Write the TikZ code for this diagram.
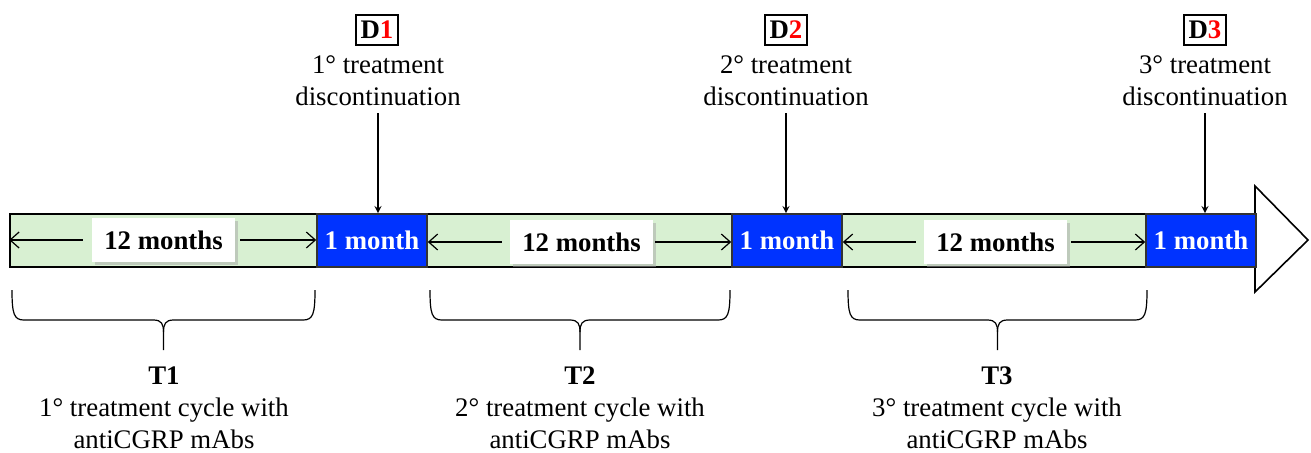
\documentclass[tikz,border=0pt]{standalone}
\usepackage{fontspec}
\setmainfont{Liberation Serif}
\usetikzlibrary{shapes.geometric, arrows, arrows.meta, calc, shadows}
\definecolor{barGreen}{RGB}{216,240,210}
\definecolor{monthBlue}{RGB}{0,51,255}
\newcommand{\figfont}{\fontsize{13.4}{16}\selectfont}
\tikzstyle{barNode} = [rectangle, draw=black, thick, fill=barGreen, minimum width=622.5pt, minimum height=26.5pt, inner sep=0pt]
\tikzstyle{monthNode} = [rectangle, draw=black!80, thick, fill=monthBlue, text=white, font=\figfont\bfseries, minimum width=55pt, minimum height=26.5pt, inner sep=0pt]
\tikzstyle{yearNode} = [rectangle, fill=white, font=\figfont\bfseries, minimum width=71.5pt, minimum height=22pt, inner sep=0pt, drop shadow={shadow xshift=1.5pt, shadow yshift=-1.5pt, fill=black!35}]
\tikzstyle{dNode} = [rectangle, draw=black, thick, font=\figfont\bfseries, minimum width=21pt, minimum height=15pt, inner sep=1.5pt]
\tikzstyle{eNode} = [text centered, align=center, font=\figfont]
\tikzstyle{arrow} = [semithick,->,>=stealth]
\tikzstyle{spanArrow} = [semithick,-{Straight Barb[length=4.5pt,width=8pt]}]
\tikzstyle{braceLine} = [semithick]

\begin{document}
\begin{tikzpicture}[x=0.5pt, y=-0.5pt]
        \useasboundingbox (0,0) rectangle (1311,452);
        % timeline bar and head
        \node (bar) [barNode] at (632.5,240.5) {};
        \coordinate (headTop) at (1255,186);
        \coordinate (headTip) at (1308,240);
        \coordinate (headBot) at (1255,292);
        \draw [thick, fill=white] (headTop) -- (headTip) -- (headBot) -- cycle;

        \node (m1) [monthNode] at (372,240.5) {1 month};
        \node (m2) [monthNode] at (787,240.5) {1 month};
        \node (m3) [monthNode] at (1201,240.5) {1 month};

        \node (y1) [yearNode] at (163.5,240) {12 months};
        \node (y2) [yearNode] at (581.5,242) {12 months};
        \node (y3) [yearNode] at (995.5,242) {12 months};

        \draw [spanArrow, shorten <=4.5pt] (y1.west) -- (bar.west |- y1.west);
        \draw [spanArrow, shorten <=2.5pt] (y1.east) -- (m1.west |- y1.east);
        \draw [spanArrow, shorten <=4pt] (y2.west) -- (m1.east |- y2.west);
        \draw [spanArrow, shorten <=1pt] (y2.east) -- (m2.west |- y2.east);
        \draw [spanArrow, shorten <=4pt] (y3.west) -- (m2.east |- y3.west);
        \draw [spanArrow, shorten <=2pt] (y3.east) -- (m3.west |- y3.east);

        % discontinuations
        \node (d1) [dNode] at (377,30) {D\textcolor{red}{1}};
        \node (d1txt) [eNode] at (378,81) {1° treatment\\discontinuation};
        \node (d2) [dNode] at (786,30) {D\textcolor{red}{2}};
        \node (d2txt) [eNode] at (786,81) {2° treatment\\discontinuation};
        \node (d3) [dNode] at (1205,30) {D\textcolor{red}{3}};
        \node (d3txt) [eNode] at (1205,81) {3° treatment\\discontinuation};

        \draw [arrow] (d1txt.south) -- (d1txt.south |- m1.north);
        \draw [arrow] (d2txt.south) -- (d2txt.south |- m2.north);
        \draw [arrow] (d3txt.south) -- (d3txt.south |- m3.north);

        % treatment cycles
        \coordinate (c1a) at (12,290);
        \coordinate (c1b) at (315,290);
        \coordinate (c2a) at (430,290);
        \coordinate (c2b) at (730,290);
        \coordinate (c3a) at (848,290);
        \coordinate (c3b) at (1147,290);
        \foreach \a/\b in {c1a/c1b, c2a/c2b, c3a/c3b} {
            \draw [braceLine] (\a) .. controls ($(\a)+(0,24)$) and ($(\a)+(2,30)$) .. ($(\a)+(12,30)$)
                -- ($(\a)!0.5!(\b)+(-10,30)$) .. controls ($(\a)!0.5!(\b)+(-2,30)$) and ($(\a)!0.5!(\b)+(0,34)$) .. ($(\a)!0.5!(\b)+(0,42)$)
                -- ($(\a)!0.5!(\b)+(0,60)$);
            \draw [braceLine] ($(\a)!0.5!(\b)+(0,42)$) .. controls ($(\a)!0.5!(\b)+(0,34)$) and ($(\a)!0.5!(\b)+(2,30)$) .. ($(\a)!0.5!(\b)+(10,30)$)
                -- ($(\b)+(-12,30)$) .. controls ($(\b)+(-2,30)$) and ($(\b)+(0,24)$) .. (\b);
        }

        \node (t1) [eNode] at (164,408) {\textbf{T1}\\1° treatment cycle with\\antiCGRP mAbs};
        \node (t2) [eNode] at (580,408) {\textbf{T2}\\2° treatment cycle with\\antiCGRP mAbs};
        \node (t3) [eNode] at (997,408) {\textbf{T3}\\3° treatment cycle with\\antiCGRP mAbs};
    \end{tikzpicture}
\end{document}
